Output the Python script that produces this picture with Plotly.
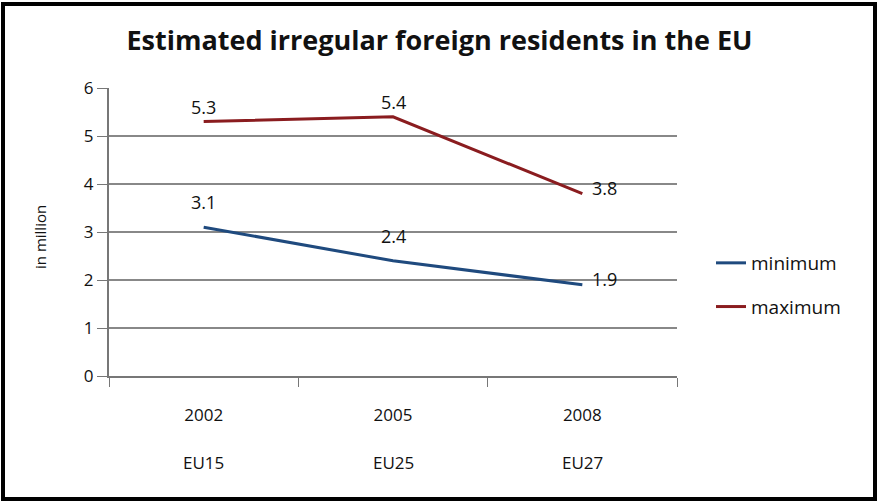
import plotly.graph_objects as go

years = ["2002", "2005", "2008"]
regions = ["EU15", "EU25", "EU27"]
minimum = [3.1, 2.4, 1.9]
maximum = [5.3, 5.4, 3.8]
y_ticks = [0, 1, 2, 3, 4, 5, 6]

FONT = "Open Sans, sans-serif"
c_min = "#1f4a7e"
c_max = "#8a1c1f"

fig = go.Figure()
fig.add_trace(go.Scatter(x=years, y=minimum, mode="lines", name="minimum",
                         line=dict(color=c_min, width=3), legendgroup="a"))
fig.add_trace(go.Scatter(x=years, y=maximum, mode="lines", name="maximum",
                         line=dict(color=c_max, width=3), legendgroup="b"))

ann = []
for series, up in ((minimum, 25), (maximum, 15)):
    for i, v in enumerate(series):
        last = i == len(series) - 1
        ann.append(dict(x=i, y=v, xref="x", yref="y", text=f"{v:.1f}",
                        showarrow=False, font=dict(size=18, color="#111", family=FONT),
                        xanchor="left" if last else "center",
                        yanchor="middle",
                        xshift=8 if last else 0,
                        yshift=6 if last else up))
for i, r in enumerate(regions):
    ann.append(dict(x=i, y=(376 - 462) / 288, xref="x", yref="paper", text=r,
                    showarrow=False, font=dict(size=17, color="#111", family=FONT),
                    yanchor="middle"))
ann.append(dict(x=(40 - 109) / 568, y=(376 - 237) / 288, xref="paper", yref="paper",
                text="in million", showarrow=False, textangle=-90,
                xanchor="center", yanchor="middle",
                font=dict(size=15, color="#111", family=FONT)))

W, H = 879, 503
L, R, T, B = 109, 202, 88, 127
pw, ph = W - L - R, H - T - B
fig.add_shape(type="rect", xref="paper", yref="paper",
              x0=(3 - L) / pw, x1=(875 - L) / pw,
              y0=(H - B - 499) / ph, y1=(H - B - 4) / ph,
              line=dict(color="black", width=4))

fig.update_layout(
    width=W, height=H,
    margin=dict(l=L, r=R, t=T, b=B, autoexpand=False),
    paper_bgcolor="white", plot_bgcolor="white",
    title=dict(text="<b>Estimated irregular foreign residents in the EU</b>",
               x=0.5, xanchor="center", y=1 - 41 / H, yanchor="middle",
               font=dict(size=27, color="#111", family=FONT)),
    showlegend=True,
    legend=dict(x=(711 - L) / pw, y=(H - B - 244) / ph, xanchor="left", yanchor="top",
                font=dict(size=19, color="#111", family=FONT),
                tracegroupgap=16, traceorder="grouped", bgcolor="rgba(0,0,0,0)"),
    annotations=ann,
    xaxis=dict(type="category", range=[-0.5, 2.5], showgrid=False,
               showline=True, linecolor="#777", linewidth=2,
               ticks="outside", tickson="boundaries", ticklen=9, tickcolor="#777",
               tickfont=dict(size=17, color="#111", family=FONT), ticklabelstandoff=23),
    yaxis=dict(range=[0, 6], tickvals=y_ticks, showgrid=True, gridcolor="#888",
               gridwidth=2, showline=True, linecolor="#777", linewidth=2,
               ticks="outside", ticklen=10, tickcolor="#777", zeroline=False,
               tickfont=dict(size=17, color="#111", family=FONT)),
)

fig.write_html("out.html", config={"displayModeBar": False},
               post_script="document.body.style.margin='0';")
